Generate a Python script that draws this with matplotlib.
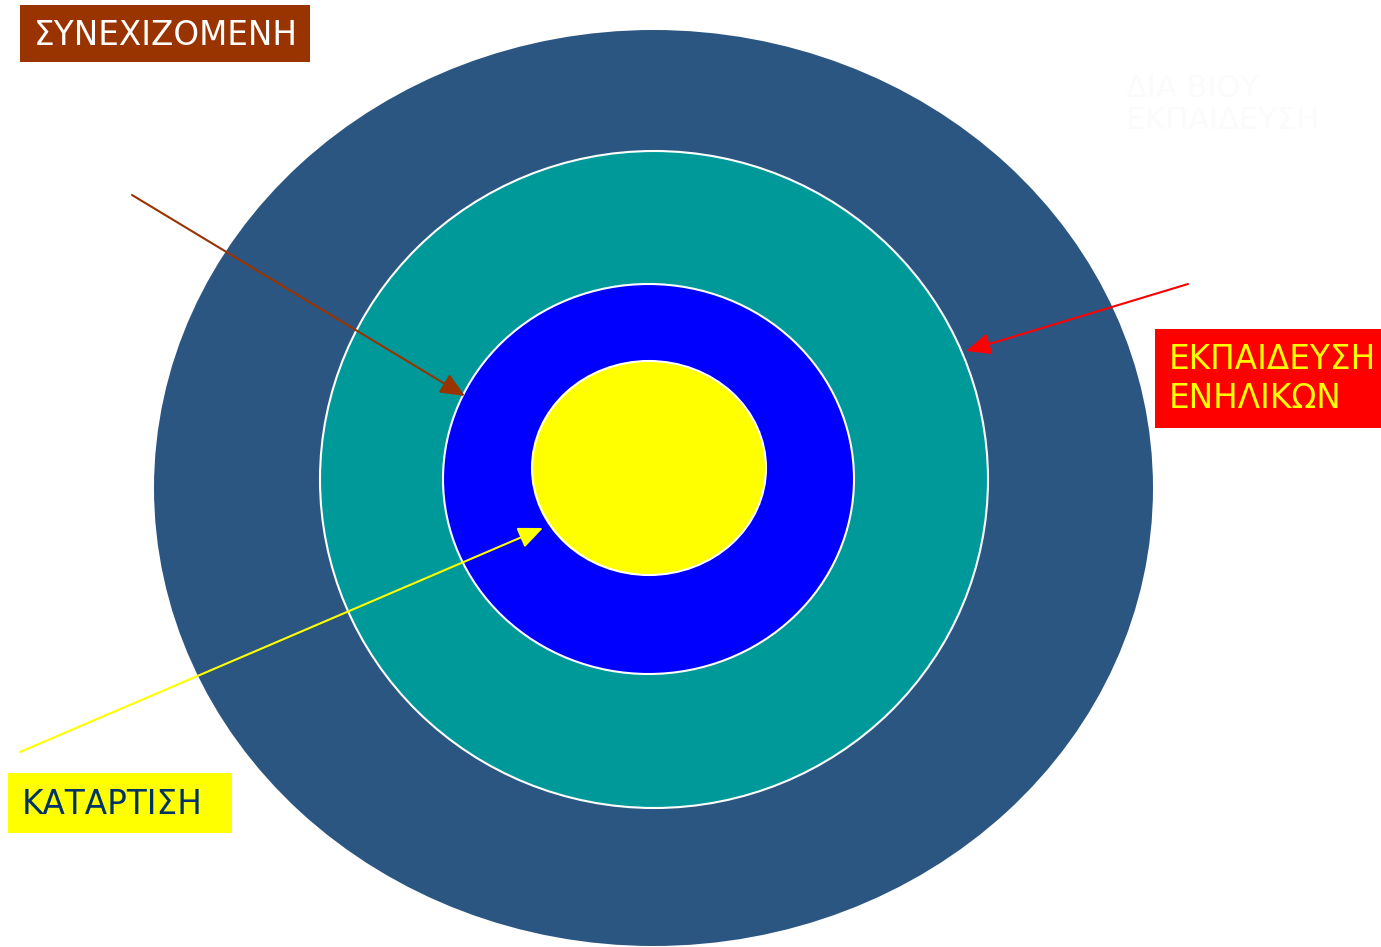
import matplotlib
matplotlib.use("Agg")
import matplotlib.pyplot as plt
from matplotlib.patches import Ellipse

plt.rcParams['font.family'] = ['DejaVu Sans']

W, H = 1381, 947

# Ομόκεντροι δακτύλιοι (από έξω προς τα μέσα)
ring_cx = [653.5, 654, 648.5, 649]
ring_cy = [488, 479.5, 479, 468]
ring_w = [999, 668, 411, 234]
ring_h = [916, 657, 390, 214]
ring_colors = ['#2C5682', '#009999', '#0000FF', '#FFFF00']
ring_edges = ['none', 'white', 'white', 'white']

# Ετικέτες
labels = ['ΣΥΝΕΧΙΖΟΜΕΝΗ', 'ΕΚΠΑΙΔΕΥΣΗ\nΕΝΗΛΙΚΩΝ', 'ΚΑΤΑΡΤΙΣΗ']
label_boxes = [(20, 5, 290, 57), (1155, 329, 226, 99), (8, 773, 224, 60)]
label_text_xy = [(34, 35), (1169, 379), (22, 804)]
label_bg = ['#993300', '#FF0000', '#FFFF00']
label_fg = ['white', '#FFFF00', '#003366']

# Βέλη: (αρχή, αιχμή, χρώμα)
arrow_from = [(132, 195), (1188, 284), (20, 752)]
arrow_to = [(465, 396), (966, 351), (543, 528)]
arrow_colors = ['#993300', '#FF0000', '#FFFF00']

fig = plt.figure(figsize=(W / 100, H / 100), dpi=100)
ax = fig.add_axes([0, 0, 1, 1])
ax.set_xlim(0, W)
ax.set_ylim(H, 0)
ax.axis('off')

for cx, cy, w, h, c, ec in zip(ring_cx, ring_cy, ring_w, ring_h, ring_colors, ring_edges):
    ax.add_patch(Ellipse((cx, cy), w, h, facecolor=c, edgecolor=ec, lw=1.5))

# κρυφό (λευκό σε λευκό) κείμενο πάνω δεξιά
ax.text(1126, 74, 'ΔΙΑ ΒΙΟΥ\nΕΚΠΑΙΔΕΥΣΗ', color='#fbfbfb', fontsize=22,
        va='top', ha='left', linespacing=1.15)

for (x0, y0, w, h), bg in zip(label_boxes, label_bg):
    ax.add_patch(plt.Rectangle((x0, y0), w, h, facecolor=bg, edgecolor='none'))
for txt, (tx, ty), fg in zip(labels, label_text_xy, label_fg):
    ax.text(tx, ty, txt, color=fg, fontsize=23.5, va='center', ha='left', linespacing=1.25)

for p0, p1, c in zip(arrow_from, arrow_to, arrow_colors):
    ax.annotate('', xy=p1, xytext=p0,
                arrowprops=dict(arrowstyle='-|>,head_length=1.5,head_width=0.65',
                                color=c, lw=1.5, shrinkA=0, shrinkB=0))

fig.savefig('out.png', dpi=100)
